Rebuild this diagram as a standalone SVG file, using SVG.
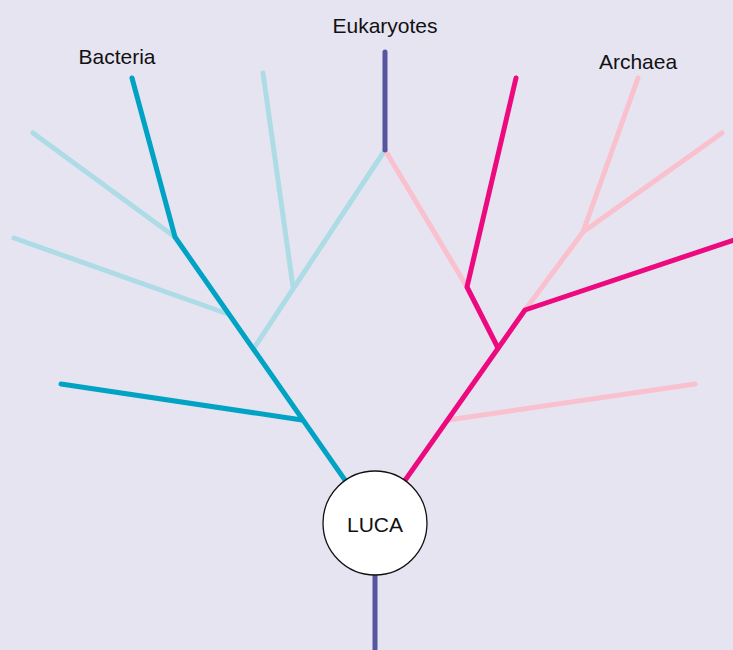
<svg xmlns="http://www.w3.org/2000/svg" width="733" height="650" viewBox="0 0 733 650">
<style>
.b{fill:none;stroke-linecap:round;stroke-linejoin:round;stroke-width:5}
.teal{stroke:#00A3C4}
.ltblue{stroke:#ADDCE7}
.mag{stroke:#EC0A7E}
.pink{stroke:#F9C1CE}
.purp{stroke:#57559F}
text{font-family:"Liberation Sans",Arial,sans-serif;font-size:21px;fill:#111;text-anchor:middle}
</style>
<rect width="733" height="650" fill="#E6E4F1"/>
<g id="connectors">
<path class="b ltblue" d="M33,133 L175,237"/>
<path class="b ltblue" d="M14,238 L228,314"/>
<path class="b ltblue" d="M263,73 L293,287"/>
<path class="b ltblue" d="M385,150 L254,348"/>
<path class="b pink" d="M385,150 L467,287"/>
<path class="b pink" d="M525,310 L583,232 L638,78"/>
<path class="b pink" d="M583,232 L722,133"/>
<path class="b pink" d="M695,384 L448,420"/>
<path class="b teal" d="M132,78 L175,237 L375,523"/>
<path class="b teal" d="M61,384 L302,420"/>
<path class="b mag" d="M516,78 L467,287 L498,348"/>
<path class="b mag" d="M375,523 L525,310 L740,238"/>
<path class="b purp" d="M385,52 L385,150"/>
<path class="b purp" stroke-linecap="butt" d="M375,560 L375,650"/>
</g>
<g id="luca">
<circle cx="375" cy="523" r="52" fill="#fff" stroke="#111" stroke-width="1.3"/>
<text x="375" y="532">LUCA</text>
</g>
<g id="bacteria"><text x="117" y="64">Bacteria</text></g>
<g id="eukaryotes"><text x="385" y="33">Eukaryotes</text></g>
<g id="archaea"><text x="638" y="69">Archaea</text></g>
</svg>
